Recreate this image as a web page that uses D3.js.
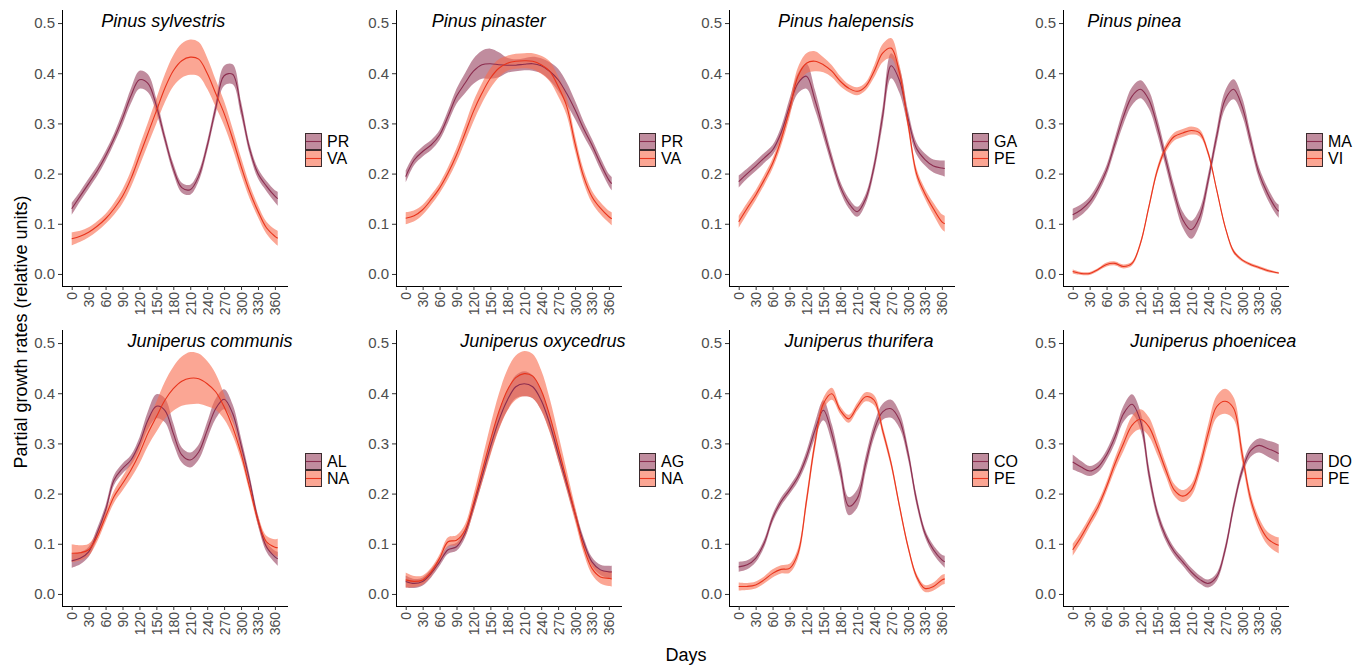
<!DOCTYPE html>
<html>
<head>
<meta charset="utf-8">
<script src="https://cdn.jsdelivr.net/npm/d3@7"></script>
<style>
  body { margin: 0; background: #fff; }
  svg { font-family: "Liberation Sans", Arial, sans-serif; }
  .tick text { fill: #4d4d4d; }
</style>
</head>
<body>
<svg id="chart" width="1365" height="665"></svg>
<script>
// sample days of the fitted curves
const days = [0, 15, 30, 45, 60, 75, 90, 105, 120, 135, 150, 165, 180, 195, 210, 225, 240, 255, 270, 285, 300, 315, 330, 345, 360, 365];
const dayTicks = [0, 30, 60, 90, 120, 150, 180, 210, 240, 270, 300, 330, 360];
const yTicks = [0, 0.1, 0.2, 0.3, 0.4, 0.5];

const species = ["Pinus sylvestris", "Pinus pinaster", "Pinus halepensis", "Pinus pinea",
  "Juniperus communis", "Juniperus oxycedrus", "Juniperus thurifera", "Juniperus phoenicea"];
const sites = [["PR", "VA"], ["PR", "VA"], ["GA", "PE"], ["MA", "VI"],
  ["AL", "NA"], ["AG", "NA"], ["CO", "PE"], ["DO", "PE"]];
// day where each species label sits
const titleDay = [162, 147, 190, 109, 245, 243, 213, 249];

// mean curves and their standard errors (ribbon half width)
const sylvestrisPR = [0.13,0.155,0.18,0.205,0.235,0.27,0.31,0.355,0.387,0.38,0.335,0.27,0.21,0.172,0.168,0.195,0.255,0.33,0.395,0.398,0.33,0.25,0.2,0.175,0.155,0.15];
const sylvestrisPRse = [0.012,0.01,0.01,0.01,0.01,0.01,0.012,0.015,0.018,0.018,0.014,0.01,0.01,0.01,0.01,0.01,0.01,0.012,0.02,0.02,0.014,0.01,0.01,0.01,0.012,0.014];
const sylvestrisVA = [0.07,0.075,0.083,0.095,0.11,0.13,0.155,0.19,0.235,0.28,0.325,0.37,0.405,0.425,0.432,0.428,0.4,0.36,0.32,0.27,0.215,0.165,0.125,0.092,0.075,0.071];
const sylvestrisVAse = [0.013,0.011,0.01,0.01,0.01,0.012,0.014,0.016,0.02,0.022,0.025,0.028,0.031,0.034,0.035,0.034,0.031,0.027,0.024,0.02,0.017,0.014,0.012,0.012,0.014,0.015];

const pinasterPR = [0.194,0.227,0.244,0.257,0.277,0.314,0.354,0.38,0.404,0.417,0.419,0.417,0.416,0.416,0.418,0.419,0.415,0.404,0.387,0.36,0.327,0.29,0.257,0.22,0.187,0.18];
const pinasterPRse = [0.012,0.01,0.01,0.01,0.01,0.012,0.015,0.02,0.025,0.028,0.03,0.025,0.015,0.012,0.012,0.014,0.015,0.018,0.022,0.022,0.018,0.014,0.012,0.012,0.012,0.013];
const pinasterVA = [0.111,0.116,0.128,0.148,0.171,0.201,0.237,0.28,0.324,0.36,0.39,0.41,0.42,0.424,0.425,0.424,0.417,0.404,0.374,0.335,0.26,0.195,0.154,0.131,0.114,0.11];
const pinasterVAse = [0.012,0.011,0.01,0.01,0.01,0.012,0.014,0.017,0.02,0.02,0.02,0.018,0.015,0.015,0.015,0.016,0.018,0.02,0.02,0.018,0.015,0.013,0.012,0.012,0.012,0.013];

const halepensisGA = [0.184,0.2,0.215,0.231,0.247,0.281,0.334,0.38,0.394,0.347,0.287,0.227,0.174,0.141,0.124,0.15,0.215,0.315,0.415,0.385,0.31,0.25,0.228,0.215,0.211,0.21];
const halepensisGAse = [0.012,0.01,0.01,0.01,0.01,0.012,0.015,0.02,0.025,0.02,0.015,0.012,0.01,0.01,0.01,0.01,0.012,0.018,0.025,0.025,0.015,0.012,0.012,0.013,0.015,0.016];
const halepensisPE = [0.104,0.131,0.157,0.187,0.22,0.267,0.327,0.394,0.42,0.424,0.417,0.404,0.384,0.37,0.364,0.374,0.404,0.44,0.45,0.4,0.3,0.2,0.16,0.13,0.104,0.1];
const halepensisPEse = [0.012,0.011,0.01,0.01,0.01,0.012,0.015,0.018,0.02,0.02,0.015,0.012,0.01,0.008,0.008,0.008,0.012,0.018,0.02,0.016,0.012,0.01,0.01,0.012,0.015,0.016];

const pineaMA = [0.118,0.128,0.144,0.171,0.207,0.261,0.314,0.354,0.368,0.347,0.294,0.227,0.161,0.108,0.088,0.114,0.187,0.274,0.347,0.368,0.334,0.267,0.201,0.161,0.131,0.125];
const pineaMAse = [0.012,0.011,0.01,0.01,0.01,0.012,0.015,0.018,0.018,0.018,0.016,0.015,0.015,0.016,0.018,0.016,0.013,0.014,0.018,0.02,0.018,0.014,0.012,0.012,0.012,0.013];
const pineaVI = [0.005,0.001,0.001,0.009,0.019,0.021,0.015,0.021,0.061,0.134,0.207,0.251,0.274,0.281,0.286,0.281,0.241,0.168,0.094,0.045,0.028,0.019,0.013,0.007,0.003,0.002];
const pineaVIse = [0.004,0.003,0.003,0.003,0.004,0.004,0.004,0.004,0.005,0.006,0.007,0.008,0.008,0.008,0.008,0.007,0.006,0.005,0.004,0.004,0.003,0.003,0.003,0.003,0.002,0.002];

const communisAL = [0.066,0.071,0.084,0.121,0.167,0.227,0.25,0.267,0.3,0.346,0.374,0.366,0.32,0.277,0.267,0.283,0.326,0.369,0.388,0.36,0.297,0.227,0.147,0.094,0.074,0.07];
const communisALse = [0.014,0.012,0.01,0.01,0.01,0.01,0.01,0.01,0.012,0.018,0.024,0.024,0.02,0.015,0.015,0.015,0.017,0.02,0.02,0.018,0.014,0.01,0.01,0.01,0.012,0.014];
const communisNA = [0.081,0.082,0.088,0.114,0.154,0.194,0.22,0.247,0.28,0.32,0.353,0.386,0.409,0.424,0.43,0.429,0.419,0.403,0.373,0.333,0.28,0.213,0.147,0.104,0.093,0.092];
const communisNAse = [0.018,0.015,0.012,0.01,0.01,0.012,0.014,0.016,0.02,0.025,0.03,0.037,0.044,0.049,0.052,0.05,0.045,0.036,0.025,0.017,0.012,0.01,0.01,0.012,0.016,0.018];

const oxycedrusAG = [0.025,0.021,0.025,0.041,0.064,0.088,0.094,0.121,0.174,0.233,0.293,0.346,0.386,0.413,0.419,0.413,0.386,0.34,0.28,0.22,0.16,0.104,0.064,0.048,0.044,0.044];
const oxycedrusAGse = [0.012,0.009,0.008,0.008,0.008,0.008,0.008,0.009,0.01,0.012,0.014,0.017,0.02,0.023,0.025,0.023,0.02,0.016,0.013,0.011,0.01,0.009,0.009,0.01,0.012,0.012];
const oxycedrusNA = [0.028,0.025,0.028,0.044,0.071,0.104,0.107,0.127,0.18,0.243,0.306,0.363,0.406,0.431,0.439,0.434,0.406,0.356,0.293,0.227,0.16,0.094,0.051,0.034,0.031,0.03];
const oxycedrusNAse = [0.015,0.011,0.009,0.008,0.008,0.009,0.01,0.012,0.017,0.023,0.03,0.036,0.041,0.044,0.045,0.044,0.04,0.034,0.027,0.02,0.015,0.012,0.012,0.013,0.015,0.015];

const thuriferaCO = [0.054,0.058,0.071,0.101,0.151,0.184,0.207,0.233,0.273,0.326,0.366,0.32,0.247,0.175,0.19,0.26,0.326,0.363,0.369,0.346,0.28,0.187,0.121,0.088,0.068,0.064];
const thuriferaCOse = [0.01,0.009,0.008,0.008,0.008,0.008,0.008,0.009,0.012,0.015,0.02,0.018,0.016,0.018,0.018,0.016,0.014,0.016,0.018,0.016,0.012,0.01,0.008,0.009,0.01,0.012];
const thuriferaPE = [0.015,0.015,0.018,0.028,0.041,0.049,0.051,0.081,0.185,0.3,0.379,0.399,0.366,0.349,0.373,0.393,0.386,0.326,0.26,0.174,0.094,0.035,0.011,0.015,0.028,0.03];
const thuriferaPEse = [0.008,0.007,0.007,0.007,0.008,0.008,0.009,0.01,0.012,0.012,0.012,0.012,0.008,0.008,0.008,0.009,0.01,0.009,0.008,0.007,0.006,0.006,0.007,0.008,0.01,0.01];

const phoeniceaDO = [0.263,0.253,0.245,0.253,0.277,0.313,0.359,0.378,0.345,0.24,0.16,0.114,0.084,0.064,0.044,0.029,0.021,0.034,0.088,0.174,0.245,0.285,0.296,0.29,0.283,0.28];
const phoeniceaDOse = [0.015,0.012,0.01,0.01,0.01,0.012,0.016,0.02,0.018,0.014,0.01,0.009,0.008,0.008,0.008,0.008,0.008,0.008,0.009,0.01,0.01,0.012,0.014,0.016,0.018,0.018];
const phoeniceaPE = [0.088,0.114,0.144,0.174,0.214,0.26,0.3,0.336,0.348,0.333,0.293,0.247,0.207,0.195,0.207,0.253,0.32,0.373,0.384,0.37,0.28,0.19,0.14,0.111,0.099,0.097];
const phoeniceaPEse = [0.012,0.011,0.01,0.01,0.01,0.012,0.015,0.018,0.02,0.019,0.016,0.013,0.012,0.012,0.012,0.014,0.018,0.022,0.025,0.022,0.016,0.012,0.012,0.013,0.015,0.016];

const means = [[sylvestrisPR, sylvestrisVA], [pinasterPR, pinasterVA], [halepensisGA, halepensisPE], [pineaMA, pineaVI],
  [communisAL, communisNA], [oxycedrusAG, oxycedrusNA], [thuriferaCO, thuriferaPE], [phoeniceaDO, phoeniceaPE]];
const errors = [[sylvestrisPRse, sylvestrisVAse], [pinasterPRse, pinasterVAse], [halepensisGAse, halepensisPEse], [pineaMAse, pineaVIse],
  [communisALse, communisNAse], [oxycedrusAGse, oxycedrusNAse], [thuriferaCOse, thuriferaPEse], [phoeniceaDOse, phoeniceaPEse]];

const lineCol = ["#8c2d4f", "#e8341c"];
const fillCol = ["#8c2d4f", "#f96a4c"];
const fillOp = [0.55, 0.6];

const svg = d3.select('#chart');
const colLeft = [62, 396, 729, 1063];
const rowTop = [10, 330];
const plotW = 226, plotH = 276;

species.forEach(function (name, i) {
  const left = colLeft[i % 4], top = rowTop[Math.floor(i / 4)];
  const x = d3.scaleLinear().domain([-17.2, 383.2]).range([left, left + plotW]);
  const y = d3.scaleLinear().domain([-0.024, 0.526]).range([top + plotH, top]);
  const g = svg.append('g');

  // ribbons first, then the lines on top
  means[i].forEach(function (m, k) {
    const pts = days.map((d, j) => ({ d: d, m: m[j], s: errors[i][k][j] }));
    const area = d3.area()
      .curve(d3.curveCatmullRom.alpha(0.5))
      .x(p => x(p.d)).y0(p => y(p.m - p.s)).y1(p => y(p.m + p.s));
    g.append('path').datum(pts).attr('d', area)
      .attr('fill', fillCol[k]).attr('fill-opacity', fillOp[k]);
  });
  means[i].forEach(function (m, k) {
    const pts = days.map((d, j) => ({ d: d, m: m[j] }));
    const line = d3.line()
      .curve(d3.curveCatmullRom.alpha(0.5))
      .x(p => x(p.d)).y(p => y(p.m));
    g.append('path').datum(pts).attr('d', line)
      .attr('fill', 'none').attr('stroke', lineCol[k]).attr('stroke-width', 1.1);
  });

  // axes
  const yAxis = d3.axisLeft(y).tickValues(yTicks).tickFormat(d3.format('.1f')).tickSize(4).tickPadding(3);
  const ya = g.append('g').attr('transform', 'translate(' + left + ',0)').call(yAxis);
  ya.select('.domain').attr('d', 'M0.5,' + top + 'V' + (top + plotH)).attr('stroke', '#000');
  ya.selectAll('.tick line').attr('stroke', '#333');
  ya.selectAll('.tick text').style('font-size', '15px');

  const xAxis = d3.axisBottom(x).tickValues(dayTicks).tickSize(4).tickPadding(3);
  const xa = g.append('g').attr('transform', 'translate(0,' + (top + plotH) + ')').call(xAxis);
  xa.select('.domain').attr('d', 'M' + left + ',0.5H' + (left + plotW)).attr('stroke', '#000');
  xa.selectAll('.tick line').attr('stroke', '#333');
  xa.selectAll('.tick text')
    .style('font-size', '14px')
    .attr('text-anchor', 'end')
    .attr('dy', null)
    .attr('y', null)
    .attr('dominant-baseline', 'central')
    .attr('transform', 'translate(0,6) rotate(-90)');

  // species label
  g.append('text')
    .attr('x', x(titleDay[i])).attr('y', top + 17)
    .attr('text-anchor', 'middle')
    .style('font-size', '18px').style('font-style', 'italic')
    .text(name);

  // legend
  const lg = g.append('g').attr('transform', 'translate(' + (left + 243) + ',' + (top + 123) + ')');
  sites[i].forEach(function (s, k) {
    lg.append('rect').attr('x', 0).attr('y', k * 17).attr('width', 17).attr('height', 17)
      .attr('fill', '#fff');
    lg.append('rect').attr('x', 0.5).attr('y', k * 17 + 0.5).attr('width', 16).attr('height', 16)
      .attr('fill', fillCol[k]).attr('fill-opacity', fillOp[k])
      .attr('stroke', '#3b2b2e').attr('stroke-width', 1);
    lg.append('line').attr('x1', 1).attr('x2', 16).attr('y1', k * 17 + 8.5).attr('y2', k * 17 + 8.5)
      .attr('stroke', lineCol[k]).attr('stroke-width', 1.1);
    lg.append('text').attr('x', 22).attr('y', k * 17 + 8.5)
      .attr('dominant-baseline', 'central')
      .style('font-size', '16px').attr('fill', '#000')
      .text(s);
  });
});

svg.append('text')
  .attr('transform', 'translate(27,332) rotate(-90)')
  .attr('text-anchor', 'middle')
  .style('font-size', '18px')
  .text('Partial growth rates (relative units)');

svg.append('text')
  .attr('x', 686).attr('y', 661)
  .attr('text-anchor', 'middle')
  .style('font-size', '18px')
  .text('Days');
</script>
</body>
</html>
